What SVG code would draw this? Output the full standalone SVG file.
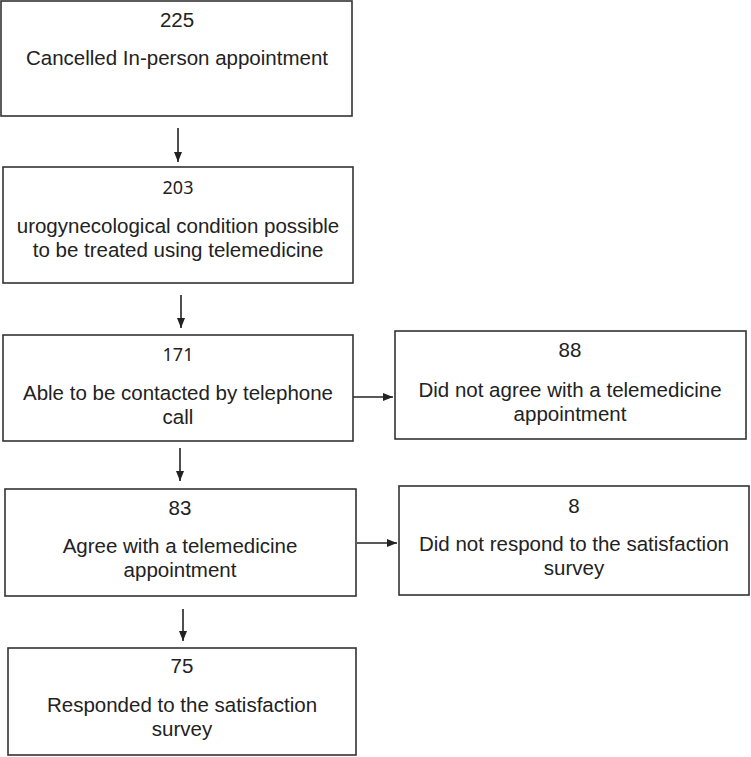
<svg xmlns="http://www.w3.org/2000/svg" width="751" height="757" viewBox="0 0 751 757">
<style>
.box{fill:#fff;stroke:#333;stroke-width:1.6}
.t{font-family:"Liberation Sans",Arial,sans-serif;font-size:20.5px;fill:#222;text-anchor:middle}
.n2{font-family:"Noto Sans","Open Sans",sans-serif;font-size:18px;fill:#222;text-anchor:middle}
.c{stroke:#222;stroke-width:1.6;fill:none}
</style>
<defs>
<marker id="ah" markerWidth="10" markerHeight="8" refX="10" refY="4" orient="auto" markerUnits="userSpaceOnUse">
<path d="M0,0 L10,4 L0,8 Z" fill="#222"/>
</marker>
</defs>
<rect width="751" height="757" fill="#fff"/>
<g id="connectors">
<line class="c" x1="178" y1="128" x2="178" y2="162" marker-end="url(#ah)"/>
<line class="c" x1="181" y1="295" x2="181" y2="328" marker-end="url(#ah)"/>
<line class="c" x1="180" y1="448" x2="180" y2="481" marker-end="url(#ah)"/>
<line class="c" x1="183" y1="609" x2="183" y2="641" marker-end="url(#ah)"/>
<line class="c" x1="353" y1="397" x2="393" y2="397" marker-end="url(#ah)"/>
<line class="c" x1="357" y1="543" x2="397" y2="543" marker-end="url(#ah)"/>
</g>
<g id="n225">
<rect class="box" x="1" y="1" width="351" height="115"/>
<text class="t" x="177" y="27">225</text>
<text class="t" x="177" y="65">Cancelled In-person appointment</text>
</g>
<g id="n203">
<rect class="box" x="3" y="167" width="350" height="116"/>
<text class="n2" x="178" y="194">203</text>
<text class="t" x="178" y="233">urogynecological condition possible</text>
<text class="t" x="178" y="257">to be treated using telemedicine</text>
</g>
<g id="n171">
<rect class="box" x="3" y="335" width="350" height="106"/>
<text class="n2" x="178" y="361">171</text>
<text class="t" x="178" y="400">Able to be contacted by telephone</text>
<text class="t" x="178" y="424">call</text>
</g>
<g id="n88">
<rect class="box" x="395" y="331" width="351" height="108"/>
<text class="t" x="570" y="357">88</text>
<text class="t" x="570" y="397">Did not agree with a telemedicine</text>
<text class="t" x="570" y="421">appointment</text>
</g>
<g id="n83">
<rect class="box" x="5" y="489" width="351" height="107"/>
<text class="t" x="180" y="515">83</text>
<text class="t" x="180" y="553">Agree with a telemedicine</text>
<text class="t" x="180" y="577">appointment</text>
</g>
<g id="n8">
<rect class="box" x="399" y="486" width="350" height="109"/>
<text class="t" x="574" y="513">8</text>
<text class="t" x="574" y="551">Did not respond to the satisfaction</text>
<text class="t" x="574" y="575">survey</text>
</g>
<g id="n75">
<rect class="box" x="8" y="648" width="348" height="107"/>
<text class="t" x="182" y="673">75</text>
<text class="t" x="182" y="712">Responded to the satisfaction</text>
<text class="t" x="182" y="736">survey</text>
</g>
</svg>
